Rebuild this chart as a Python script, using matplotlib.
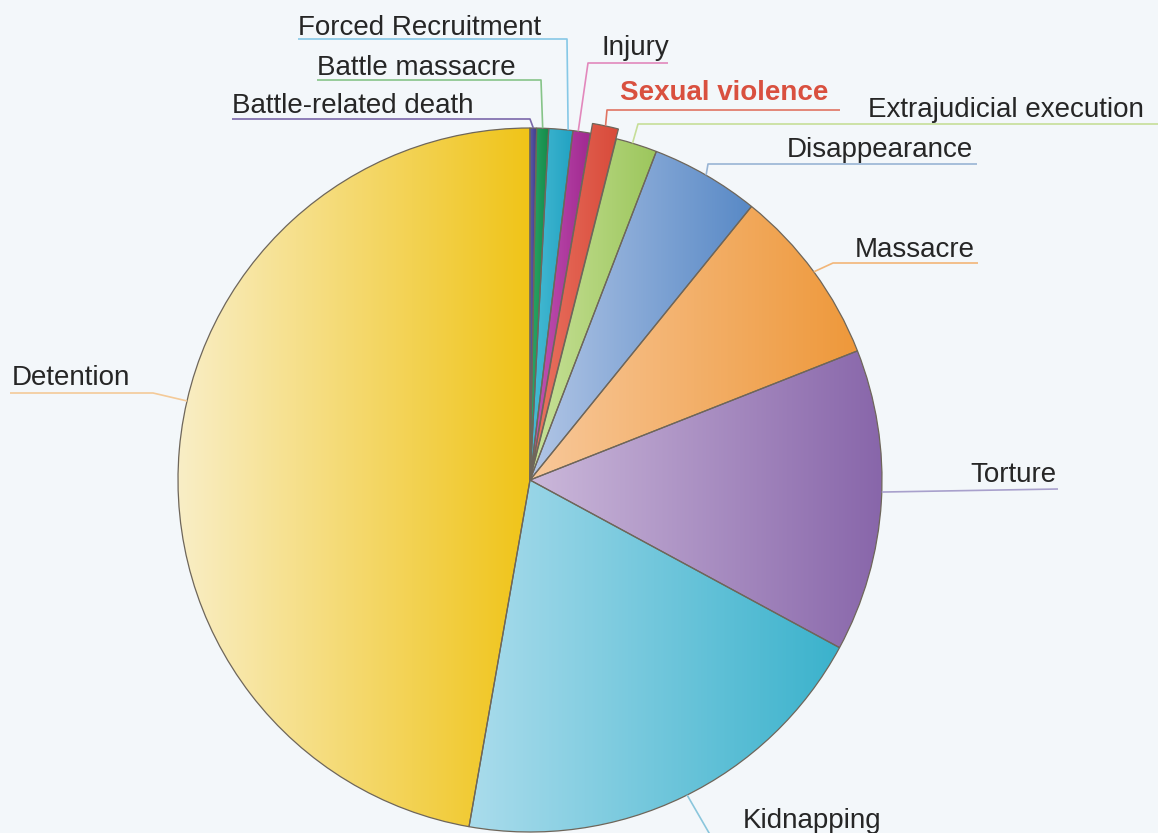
import numpy as np
import matplotlib
matplotlib.use("Agg")
import matplotlib.pyplot as plt
from matplotlib.colors import to_rgb

W, H = 1158, 833

# Share of documented violations by type (percent), clockwise from 12 o'clock
categories = [
    "Battle-related death", "Battle massacre", "Forced Recruitment", "Injury",
    "Sexual violence", "Extrajudicial execution", "Disappearance", "Massacre",
    "Torture", "Kidnapping", "Detention",
]
shares = [0.3, 0.55, 1.1, 0.8, 1.2, 1.9, 5.0, 8.2, 13.9, 19.9, 47.3]

# Light (left) and saturated (right) end of each slice's horizontal gradient
light_colors = ["#5a58a6", "#2aa868", "#48bcd4", "#c456b4", "#ea7462", "#c9e29a",
                "#b2c6e6", "#f8c89a", "#cbb8da", "#aadcec", "#f9eec6"]
dark_colors = ["#3e3c8e", "#148a48", "#22a2c2", "#a02890", "#d84a3a", "#9cc65c",
               "#5889c6", "#ee983a", "#8866aa", "#3ab2cc", "#f0c418"]
line_colors = ["#7a68aa", "#86c488", "#86c8e6", "#e288bc", "#e07462", "#c6de98",
               "#98b4d4", "#f2b678", "#a8a0cc", "#8ac6dc", "#f4ca98"]
explode = [0, 0, 0, 0, 10, 0, 0, 0, 0, 0, 0]

cx, cy, R = 530, H - 480, 352

fig = plt.figure(figsize=(W / 100, H / 100), dpi=100, facecolor="#f3f7fa")
ax = fig.add_axes([0, 0, 1, 1])
ax.set_facecolor("#f3f7fa")

wedges, _ = ax.pie(shares, startangle=90, counterclock=False, center=(cx, cy),
                   radius=R, explode=explode,
                   wedgeprops=dict(facecolor="none", edgecolor="#6e665a",
                                   linewidth=0.9))

for w, c0, c1 in zip(wedges, light_colors, dark_colors):
    w.set_zorder(3)
    ext = w.get_path().get_extents()
    t = np.linspace(0, 1, 256)[None, :, None]
    grad = (1 - t) * np.array(to_rgb(c0)) + t * np.array(to_rgb(c1))
    im = ax.imshow(grad, extent=[ext.x0, ext.x1, ext.y0, ext.y1],
                   aspect="auto", interpolation="bicubic", zorder=2)
    im.set_clip_path(w)


def rim_point(i, frac):
    """Point on the outer rim of wedge i, frac of the way through its span."""
    w = wedges[i]
    a = np.radians(w.theta1 + frac * (w.theta2 - w.theta1))
    x0, y0 = w.center
    return x0 + w.r * np.cos(a), y0 + w.r * np.sin(a)


def Y(y):
    return H - y


FS = 20
FAM = "Liberation Sans"
TXT = "#262626"
LW = 1.2

# label: (text x, baseline y, anchor fraction, path points in screen px before rim)
labels = {
    0: dict(tx=232, ty=113, frac=0.5, pts=[(232, 119), (530, 119)]),
    1: dict(tx=317, ty=75, frac=0.5, pts=[(317, 80), (541, 80)]),
    2: dict(tx=298, ty=35, frac=0.2, pts=[(298, 39), (567, 39)]),
    3: dict(tx=602, ty=55, frac=0.7, pts=[(668, 63), (588, 63)]),
    4: dict(tx=620, ty=100, frac=0.5, pts=[(840, 110), (607, 110)]),
    5: dict(tx=868, ty=117, frac=0.6, pts=[(1158, 124), (638, 124)]),
    6: dict(tx=787, ty=157, frac=0.5, pts=[(977, 164), (708, 164)]),
    7: dict(tx=855, ty=257, frac=0.5, pts=[(978, 263), (833, 263)]),
    8: dict(tx=970, ty=482, frac=0.53, pts=[(1058, 489)]),
    9: dict(tx=743, ty=828, frac=0.51, pts=[(716, 845)]),
    10: dict(tx=12, ty=385, frac=0.453, pts=[(10, 393), (153, 393)]),
}

for i, spec in labels.items():
    rx, ry = rim_point(i, spec["frac"])
    xs = [p[0] for p in spec["pts"]] + [rx]
    ys = [Y(p[1]) for p in spec["pts"]] + [ry]
    ax.plot(xs, ys, color=line_colors[i], lw=LW, zorder=4,
            solid_capstyle="butt", clip_on=False)
    if i == 4:
        ax.text(spec["tx"], Y(spec["ty"]), categories[i], fontsize=FS,
                family=FAM, fontweight="bold", color="#d9503f",
                va="baseline", ha="left", zorder=5)
    else:
        ax.text(spec["tx"], Y(spec["ty"]), categories[i], fontsize=FS,
                family=FAM, color=TXT, va="baseline", ha="left", zorder=5)

ax.set_xlim(0, W)
ax.set_ylim(0, H)
ax.set_aspect("equal")
ax.axis("off")

fig.savefig("out.png", dpi=100, facecolor=fig.get_facecolor())
